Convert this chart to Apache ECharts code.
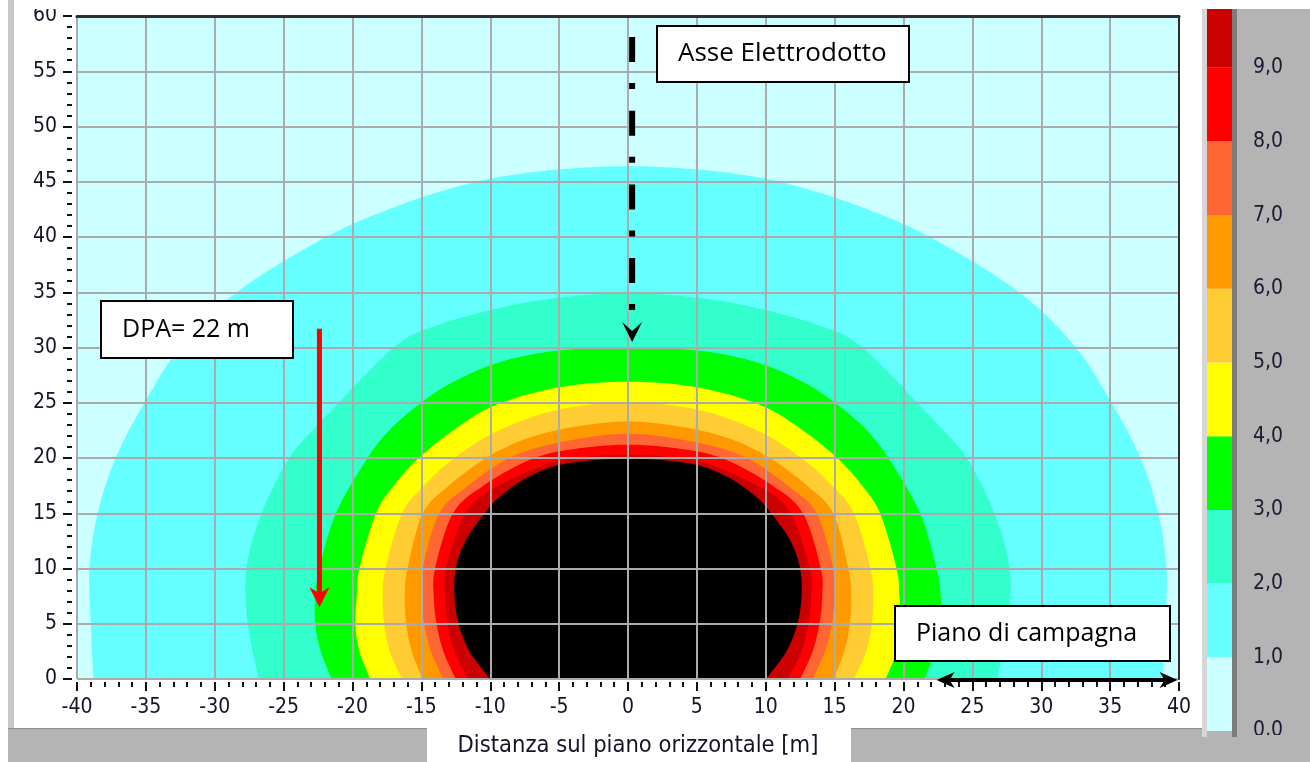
<!DOCTYPE html>
<html>
<head>
<meta charset="utf-8">
<script src="https://cdn.jsdelivr.net/npm/echarts@6.0.0/dist/echarts.min.js"></script>
<style>
html,body{margin:0;padding:0;background:#ffffff;overflow:hidden;}
#chart{width:1310px;height:762px;}
</style>
</head>
<body>
<div id="chart"></div>
<script>
// ---------------- data ----------------
const xRange = [-40, 40];
const yRange = [0, 60];
const axisStep = 5;
const barLevels = [0, 1, 2, 3, 4, 5, 6, 7, 8, 9];          // lower bound of each colour band
const barLabels = ['0,0', '1,0', '2,0', '3,0', '4,0', '5,0', '6,0', '7,0', '8,0', '9,0', '10,0'];
const bandColors = ['#CCFFFF', '#66FFFF', '#33FFCC', '#00FF00', '#FFFF00', '#FFCC33', '#FF9900', '#FF6633', '#FF0000', '#CC0000', '#000000'];
const contourLevels = [1, 2, 3, 4, 5, 6, 7, 8, 9, 10];

// left half of each iso-line [x (m), height (m)], ground -> line axis (field symmetric about x = 0)
const iso1  = [[-38.8, 0], [-39.0, 5], [-39.1, 10], [-38.5, 15], [-37.2, 20], [-35.1, 25], [-32.5, 30], [-28.4, 35], [-21.9, 40], [-16.3, 43], [-11, 45], [-6, 46], [0, 46.4]];
const iso2  = [[-26.8, 0], [-27.6, 5], [-27.7, 10], [-26.6, 15], [-24.6, 20], [-22.9, 22.5], [-21.0, 25], [-19.1, 27.5], [-17.0, 30], [-14.8, 31.6], [-10, 33.4], [-5, 34.5], [0, 34.9]];
const iso3  = [[-21.5, 0], [-22.3, 2.5], [-22.7, 5], [-22.7, 7.5], [-22.4, 10], [-21.2, 15], [-18.9, 20], [-17.1, 22.8], [-15.0, 25], [-12.8, 26.8], [-9.5, 28.6], [-5.2, 29.7], [0, 30.0]];
const iso4  = [[-18.7, 0], [-19.5, 2.5], [-19.8, 5], [-19.7, 7.5], [-19.5, 10], [-18.3, 15], [-17.0, 17.5], [-15.2, 20], [-12.7, 22.5], [-9.6, 24.8], [-5, 26.4], [0, 26.9]];
const iso5  = [[-16.4, 0], [-17.3, 2.5], [-17.7, 5], [-17.8, 7.5], [-17.6, 10], [-16.4, 15], [-14.8, 17.5], [-12.6, 20], [-9.4, 22.5], [-5, 24.4], [0, 25.0]];
const iso6  = [[-14.9, 0], [-15.7, 2.5], [-16.1, 5], [-16.2, 7.5], [-16.0, 10], [-14.9, 15], [-13.0, 17.5], [-10.3, 20], [-7.5, 21.7], [-4, 22.8], [0, 23.3]];
const iso7  = [[-13.4, 0], [-14.3, 2.5], [-14.8, 5], [-15.0, 7.5], [-14.9, 10], [-13.7, 15], [-11.6, 17.5], [-8.6, 20], [-5, 21.4], [0, 22.2]];
const iso8  = [[-12.5, 0], [-13.4, 2.5], [-13.9, 5], [-14.1, 7.5], [-14.0, 10], [-12.7, 15], [-10.5, 17.5], [-7, 19.9], [-4, 20.8], [0, 21.2]];
const iso9  = [[-11.6, 0], [-12.6, 2.5], [-13.1, 5], [-13.3, 7.5], [-13.2, 10], [-11.8, 15], [-9.7, 17.3], [-6, 19.4], [-3, 20.1], [0, 20.3]];
const iso10 = [[-10.0, 0], [-11.5, 2.5], [-12.3, 5], [-12.6, 7.5], [-12.5, 10], [-11.8, 12.5], [-10.4, 15], [-9.2, 16.6], [-7.2, 18.3], [-4.5, 19.5], [0, 19.9]];
const isoLines = [iso1, iso2, iso3, iso4, iso5, iso6, iso7, iso8, iso9, iso10];

// annotations (data coordinates)
const axisMarker = { x: 0.3, yStart: 58.1, yEnd: 33.4, tipY: 30.5 };
const dpaArrow = { x: -22.4, yStart: 31.7, tipY: 6.5 };
const groundArrow = { y: -0.1, xStart: 22.4, xEnd: 39.9 };
const axisTitle = 'Distanza sul piano orizzontale [m]';
const noteAxis = 'Asse Elettrodotto';
const noteDpa = 'DPA= 22 m';
const noteGround = 'Piano di campagna';
// ---------------------------------------------------------------

const TICK_FONT = '"DejaVu Sans Condensed", "Liberation Sans", sans-serif';
const NOTE_FONT = '"Open Sans", "Noto Sans", sans-serif';

function smoothPath(p) {
  let d = 'M' + p[0][0] + ' ' + p[0][1];
  for (let i = 0; i < p.length - 1; i++) {
    const p0 = p[i - 1] || p[i], p1 = p[i], p2 = p[i + 1], p3 = p[i + 2] || p[i + 1];
    const c1x = p1[0] + (p2[0] - p0[0]) / 6, c1y = p1[1] + (p2[1] - p0[1]) / 6;
    const c2x = p2[0] - (p3[0] - p1[0]) / 6, c2y = p2[1] - (p3[1] - p1[1]) / 6;
    d += ' C' + c1x + ' ' + c1y + ' ' + c2x + ' ' + c2y + ' ' + p2[0] + ' ' + p2[1];
  }
  return d + ' Z';
}

const chart = echarts.init(document.getElementById('chart'), null, { renderer: 'canvas' });

const option = {
  animation: false,
  backgroundColor: 'transparent',
  grid: [
    { left: 77, right: 131, top: 16, bottom: 83, show: true, backgroundColor: '#CCFFFF', borderWidth: 0, containLabel: false, outerBoundsMode: 'none' },
    { left: 1207, width: 25, top: -6, height: 737, show: false, containLabel: false, outerBoundsMode: 'none' }
  ],
  xAxis: [
    {
      gridIndex: 0, type: 'value', min: xRange[0], max: xRange[1], interval: axisStep, position: 'bottom', offset: 3, z: 3,
      axisLine: { show: false, onZero: false },
      axisTick: { show: true, length: 9, lineStyle: { color: '#111', width: 2 } },
      minorTick: { show: true, splitNumber: 5, length: 5, lineStyle: { color: '#111', width: 2 } },
      splitLine: { show: true, lineStyle: { color: '#ababab', width: 2 } },
      minorSplitLine: { show: false },
      axisLabel: { margin: 15, fontSize: 21, fontFamily: TICK_FONT, color: '#141428' }
    },
    {
      gridIndex: 0, type: 'value', min: xRange[0], max: xRange[1], position: 'top', z: 4,
      axisLine: { show: true, onZero: false, lineStyle: { color: '#2e2e2e', width: 3 } },
      axisTick: { show: false }, axisLabel: { show: false }, splitLine: { show: false }
    },
    {
      gridIndex: 1, type: 'value', min: 0, max: 1, show: false, axisLine: { onZero: false }
    }
  ],
  yAxis: [
    {
      gridIndex: 0, type: 'value', min: yRange[0], max: yRange[1], interval: axisStep, position: 'left', offset: 5, z: 3,
      axisLine: { show: false, onZero: false },
      axisTick: { show: true, length: 9, lineStyle: { color: '#111', width: 2 } },
      minorTick: { show: true, splitNumber: 5, length: 5, lineStyle: { color: '#111', width: 2 } },
      splitLine: { show: true, lineStyle: { color: '#ababab', width: 2 } },
      axisLabel: { margin: 15, fontSize: 21, fontFamily: TICK_FONT, color: '#141428' }
    },
    {
      gridIndex: 0, type: 'value', min: yRange[0], max: yRange[1], position: 'right', z: 4,
      axisLine: { show: true, onZero: false, lineStyle: { color: '#2e2e2e', width: 2 } },
      axisTick: { show: false }, axisLabel: { show: false }, splitLine: { show: false }
    },
    {
      gridIndex: 1, type: 'value', min: 0, max: 10, interval: 1, position: 'right',
      axisLine: { show: false, onZero: false }, axisTick: { show: false }, splitLine: { show: false },
      axisLabel: { margin: 21, fontSize: 21, fontFamily: TICK_FONT, color: '#1a1a33', formatter: v => barLabels[v] }
    }
  ],
  series: [
    {
      type: 'custom', coordinateSystem: 'cartesian2d', xAxisIndex: 0, yAxisIndex: 0, clip: true, z: 2, silent: true,
      data: contourLevels.map((lv, i) => [i, lv]),
      encode: { x: 0, y: 1 },
      renderItem: function (params, api) {
        const i = api.value(0);
        const half = isoLines[i];
        const pts = half.concat(half.slice(0, -1).reverse().map(p => [-p[0], p[1]]));
        const px = pts.map(p => api.coord(p));
        return { type: 'path', shape: { pathData: smoothPath(px) }, style: { fill: bandColors[i + 1], stroke: null } };
      }
    },
    {
      type: 'custom', coordinateSystem: 'cartesian2d', xAxisIndex: 2, yAxisIndex: 2, clip: false, z: 2, silent: true,
      data: barLevels.map(v => [0, v]),
      renderItem: function (params, api) {
        const v = api.value(1);
        const a = api.coord([0, v]);
        const b = api.coord([1, v + 1]);
        return { type: 'rect', shape: { x: a[0], y: b[1], width: b[0] - a[0], height: a[1] - b[1] }, style: { fill: bandColors[v], stroke: null } };
      }
    }
  ]
};

chart.setOption(option);

const P = (x, y) => chart.convertToPixel({ gridIndex: 0 }, [x, y]);

function arrowHead(tip, dir, len, halfW, notch, color) {
  const n = [-dir[1], dir[0]];
  const back = [tip[0] - dir[0] * len, tip[1] - dir[1] * len];
  const mid = [tip[0] - dir[0] * (len - notch), tip[1] - dir[1] * (len - notch)];
  return {
    type: 'polygon', z: 50, silent: true,
    shape: { points: [tip, [back[0] + n[0] * halfW, back[1] + n[1] * halfW], mid, [back[0] - n[0] * halfW, back[1] - n[1] * halfW]] },
    style: { fill: color }
  };
}

function noteBox(x, y, w, h, text, tx, fs) {
  return [
    { type: 'rect', z: 50, silent: true, shape: { x: x, y: y, width: w, height: h }, style: { fill: '#ffffff', stroke: '#000000', lineWidth: 2 } },
    { type: 'text', z: 51, silent: true, x: tx, y: y + h / 2, style: { text: text, fontSize: fs, fontFamily: NOTE_FONT, fill: '#000000', align: 'left', verticalAlign: 'middle' } }
  ];
}

const aTop = P(axisMarker.x, axisMarker.yStart);
const aEnd = P(axisMarker.x, axisMarker.yEnd);
const aTip = P(axisMarker.x, axisMarker.tipY);
const dTop = P(dpaArrow.x, dpaArrow.yStart);
const dTip = P(dpaArrow.x, dpaArrow.tipY);
const gL = P(groundArrow.xStart, groundArrow.y);
const gR = P(groundArrow.xEnd, groundArrow.y);

const graphics = [
  // window frame
  { type: 'rect', z: -10, silent: true, shape: { x: 8, y: 0, width: 6, height: 728 }, style: { fill: '#c8c8c8' } },
  { type: 'rect', z: -10, silent: true, shape: { x: 8, y: 728, width: 419, height: 34 }, style: { fill: '#b4b4b4' } },
  { type: 'rect', z: -10, silent: true, shape: { x: 851, y: 728, width: 459, height: 34 }, style: { fill: '#b4b4b4' } },
  { type: 'rect', z: -10, silent: true, shape: { x: 1237, y: 9, width: 73, height: 753 }, style: { fill: '#b4b4b4' } },
  { type: 'line', z: -9, silent: true, shape: { x1: 8, y1: 728.5, x2: 427, y2: 728.5 }, style: { stroke: '#8e8e8e', lineWidth: 1 } },
  { type: 'line', z: -9, silent: true, shape: { x1: 851, y1: 728.5, x2: 1202, y2: 728.5 }, style: { stroke: '#8e8e8e', lineWidth: 1 } },
  { type: 'rect', z: -9, silent: true, shape: { x: 1202, y: 0, width: 5, height: 737 }, style: { fill: '#d6d6d6' } },
  { type: 'rect', z: -9, silent: true, shape: { x: 1232, y: 0, width: 5, height: 737 }, style: { fill: '#7c7c7c' } },
  { type: 'text', z: 5, silent: true, x: 638, y: 746, style: { text: axisTitle, fontSize: 23.5, fontFamily: TICK_FONT, fill: '#141428', align: 'center', verticalAlign: 'middle' } },
  // covers (frame edges)
  { type: 'rect', z: 100, silent: true, shape: { x: 1200, y: 0, width: 110, height: 9 }, style: { fill: '#ffffff' } },
  { type: 'rect', z: 100, silent: true, shape: { x: 1237, y: 735, width: 73, height: 27 }, style: { fill: '#b4b4b4' } },
  { type: 'rect', z: 100, silent: true, shape: { x: 14, y: 0, width: 62, height: 9 }, style: { fill: '#ffffff' } },
  // axis of the power line
  { type: 'line', z: 50, silent: true, shape: { x1: aTop[0], y1: aTop[1], x2: aEnd[0], y2: aEnd[1] }, style: { stroke: '#000', lineWidth: 6, lineDash: [25, 21, 6, 21.7], lineCap: 'butt' } },
  arrowHead(aTip, [0, 1], 20, 10, 9, '#000'),
  // DPA arrow
  { type: 'line', z: 50, silent: true, shape: { x1: dTop[0], y1: dTop[1], x2: dTip[0], y2: dTip[1] - 10 }, style: { stroke: '#ff0000', lineWidth: 5 } },
  arrowHead(dTip, [0, 1], 20, 10, 6, '#ff0000'),
  // ground double arrow
  { type: 'line', z: 50, silent: true, shape: { x1: gL[0] + 10, y1: gL[1], x2: gR[0] - 10, y2: gR[1] }, style: { stroke: '#000', lineWidth: 4 } },
  arrowHead(gL, [-1, 0], 18, 8, 5, '#000'),
  arrowHead(gR, [1, 0], 18, 8, 5, '#000')
].concat(
  noteBox(657, 26, 252, 56, noteAxis, 678, 26),
  noteBox(101, 301, 192, 57, noteDpa, 122, 25),
  noteBox(895, 606, 275, 55, noteGround, 916, 25)
);

chart.setOption({ graphic: { elements: graphics } });
</script>
</body>
</html>
